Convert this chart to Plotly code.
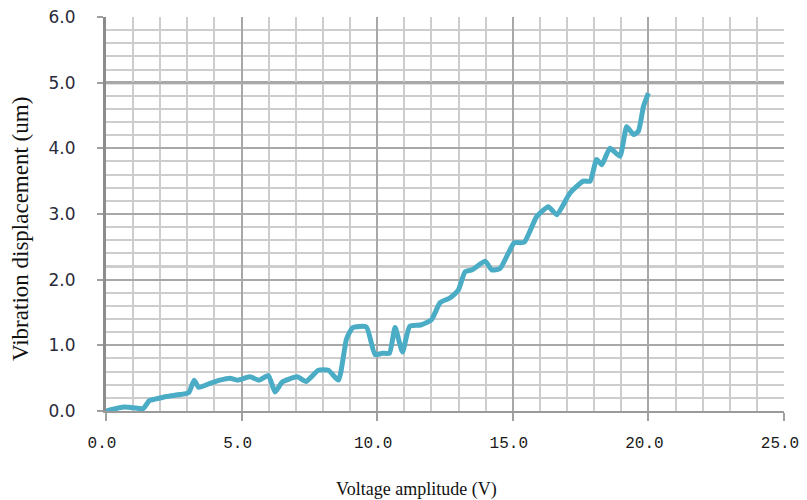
import plotly.graph_objects as go

# Data
voltage = [0, 0.3, 0.65, 1.0, 1.38, 1.6, 1.8, 2.24, 2.73, 3.05, 3.25, 3.42, 3.83, 4.2, 4.57,
           4.85, 5.3, 5.65, 5.99, 6.23, 6.5, 7.05, 7.38, 7.83, 8.2, 8.57, 8.87, 9.1, 9.6,
           9.92, 10.2, 10.45, 10.66, 10.93, 11.2, 11.6, 12.0, 12.32, 12.68, 12.99, 13.24,
           13.5, 13.98, 14.22, 14.53, 14.83, 15.05, 15.42, 15.88, 16.31, 16.62, 17.11,
           17.6, 17.85, 18.09, 18.28, 18.58, 18.95, 19.2, 19.45, 19.63, 19.82, 20.0]
displacement = [0, 0.03, 0.06, 0.05, 0.04, 0.16, 0.18, 0.22, 0.25, 0.28, 0.47, 0.36, 0.42,
                0.47, 0.5, 0.47, 0.52, 0.47, 0.54, 0.29, 0.44, 0.52, 0.45, 0.62, 0.62, 0.47,
                1.1, 1.27, 1.28, 0.86, 0.88, 0.88, 1.27, 0.9, 1.29, 1.31, 1.39, 1.65, 1.72,
                1.84, 2.12, 2.15, 2.28, 2.15, 2.17, 2.4, 2.56, 2.57, 2.96, 3.11, 2.99, 3.32,
                3.5, 3.5, 3.83, 3.75, 4.0, 3.88, 4.33, 4.21, 4.26, 4.64, 4.84]

x_tickvals = [0, 5, 10, 15, 20, 25]
x_ticktext = ["0.0", "5.0", "10.0", "15.0", "20.0", "25.0"]
y_tickvals = [0, 1, 2, 3, 4, 5, 6]
y_ticktext = ["0.0", "1.0", "2.0", "3.0", "4.0", "5.0", "6.0"]

x_title = "Voltage amplitude (V)"
y_title = "Vibration displacement (um)"

fig = go.Figure()
fig.add_trace(go.Scatter(
    x=voltage, y=displacement, mode="lines",
    line=dict(color="#4bacc6", width=5, shape="spline", smoothing=0.5),
    showlegend=False, hoverinfo="skip",
))

# page body has an 8px margin, so the figure is sized/offset to compensate
fig.update_layout(
    width=799, height=492,
    margin=dict(l=98, r=23, t=9, b=89),
    paper_bgcolor="white", plot_bgcolor="white",
    xaxis=dict(
        range=[0, 25], tickvals=x_tickvals, ticktext=x_ticktext,
        automargin=False, ticklabeloverflow="allow",
        showgrid=True, gridcolor="#a8a8a8", gridwidth=1.6,
        minor=dict(dtick=1, showgrid=True, gridcolor="#cdcdcd", gridwidth=2),
        ticks="outside", ticklen=8, tickcolor="#a0a0a0", tickwidth=1.5,
        showline=True, linecolor="#9a9a9a", linewidth=2,
        zeroline=False,
        tickfont=dict(family="Liberation Mono", size=16, color="#1a1a1a"),
        ticklabelstandoff=8, ticklabelshift=-4,
    ),
    yaxis=dict(
        range=[0, 6], tickvals=y_tickvals, ticktext=y_ticktext,
        automargin=False, ticklabeloverflow="allow",
        showgrid=True, gridcolor="#a8a8a8", gridwidth=1.6,
        minor=dict(dtick=0.2, showgrid=True, gridcolor="#cdcdcd", gridwidth=2),
        ticks="outside", ticklen=6, tickcolor="#a0a0a0", tickwidth=1.5,
        showline=True, linecolor="#8c8c8c", linewidth=3,
        zeroline=False,
        tickfont=dict(family="DejaVu Sans", size=17, color="#2a2a3a"),
        ticklabelstandoff=18,
    ),
    shapes=[
        dict(type="line", xref="paper", yref="y", x0=0, x1=1, y0=5, y1=5,
             line=dict(color="#8a8a8a", width=3), layer="below"),
        dict(type="line", xref="paper", yref="y", x0=0, x1=1, y0=2.2, y1=2.2,
             line=dict(color="#a0a0a0", width=2), layer="below"),
    ],
    annotations=[
        dict(text=x_title, xref="paper", yref="paper",
             x=(416 - 106) / 678, y=-(489 - 411) / 394,
             xanchor="center", yanchor="middle", showarrow=False,
             font=dict(family="Liberation Serif", size=18, color="#111111")),
        dict(text=y_title, xref="paper", yref="paper",
             x=-(106 - 20) / 678, y=(411 - 229) / 394,
             xanchor="center", yanchor="middle", showarrow=False, textangle=-90,
             font=dict(family="Liberation Serif", size=23, color="#111111")),
    ],
)

fig.write_html("out.html")
